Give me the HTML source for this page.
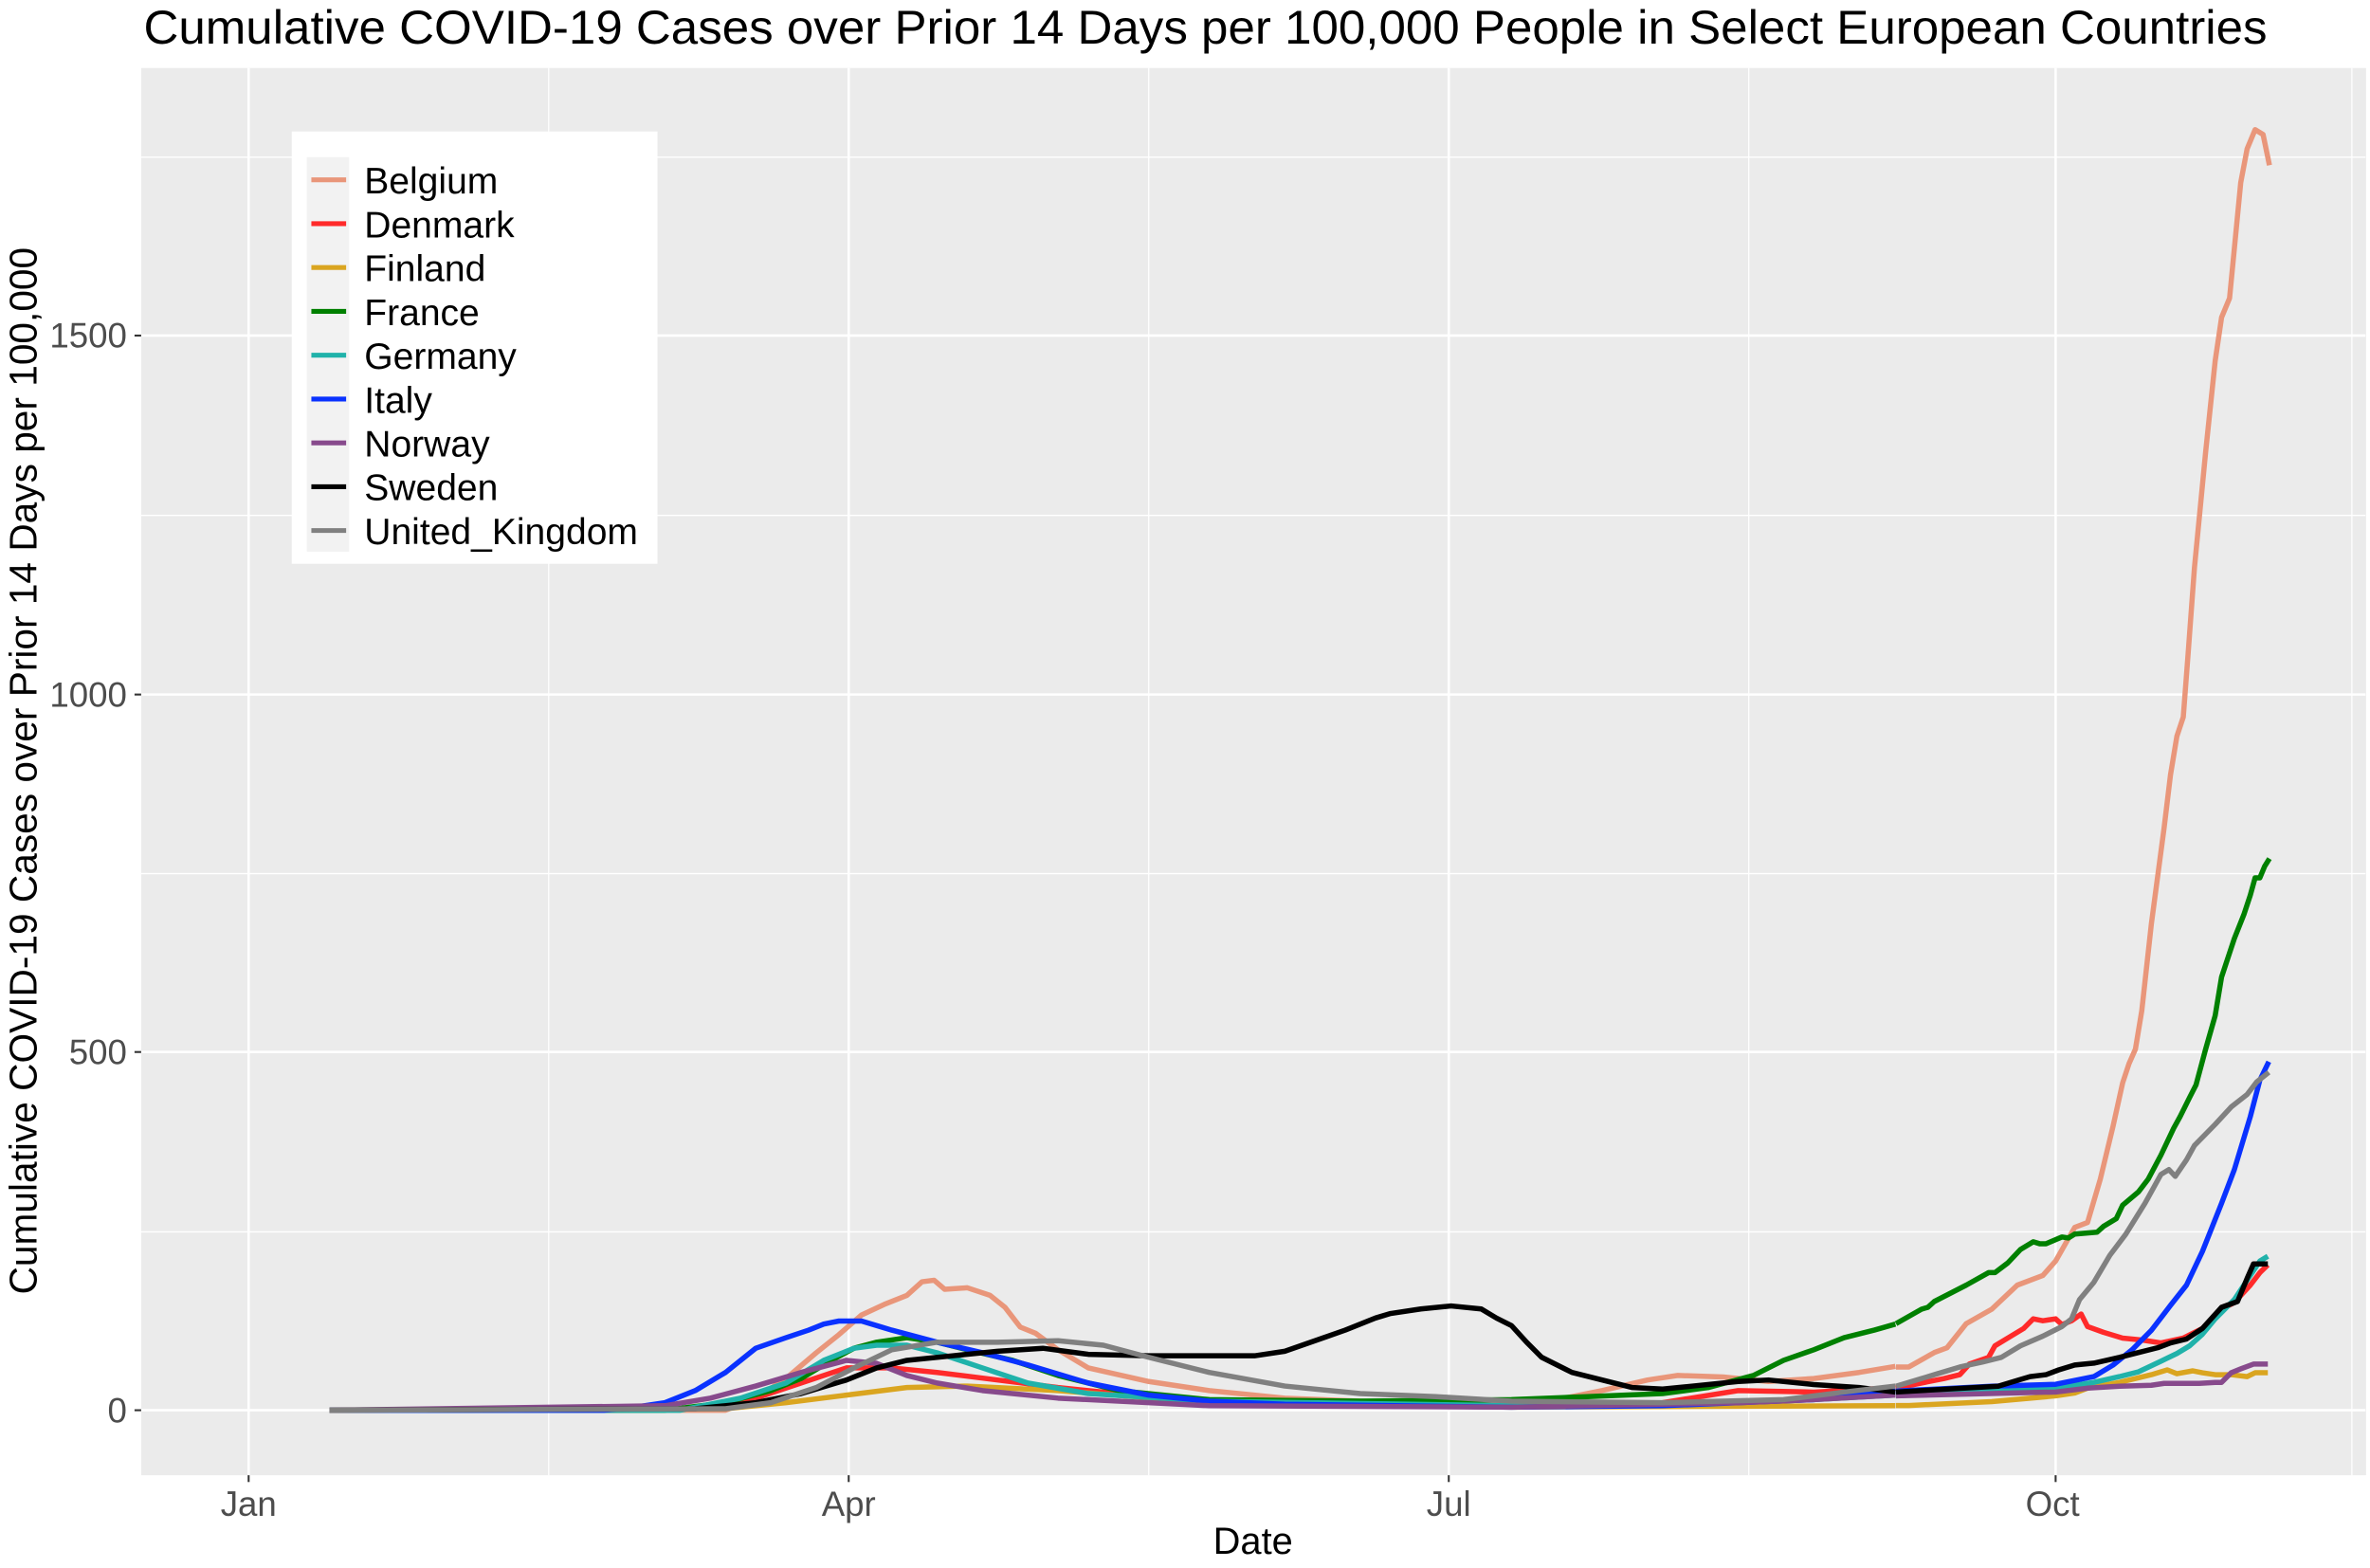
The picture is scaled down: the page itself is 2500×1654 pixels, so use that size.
<!DOCTYPE html>
<html><head><meta charset="utf-8"><style>html,body{margin:0;padding:0;background:#fff}svg{display:block}text{font-family:"Liberation Sans",sans-serif}</style></head>
<body>
<svg width="2500" height="1654" xmlns="http://www.w3.org/2000/svg">
<g transform="scale(1.5944)">
  <rect x="0" y="0" width="1568" height="1038" fill="#fff"/>
  <text x="95" y="29" font-size="31.5" textLength="1405" lengthAdjust="spacingAndGlyphs" fill="#000">Cumulative COVID-19 Cases over Prior 14 Days per 100,000 People in Select European Countries</text>
  <rect x="93.4" y="45" width="1472" height="931" fill="#ebebeb"/>
  <g stroke="#fff" stroke-width="0.8">
    <line x1="93.4" x2="1565" y1="815" y2="815"/><line x1="93.4" x2="1565" y1="578" y2="578"/>
    <line x1="93.4" x2="1565" y1="341" y2="341"/><line x1="93.4" x2="1565" y1="104" y2="104"/>
    <line y1="45" y2="976" x1="363" x2="363"/><line y1="45" y2="976" x1="760" x2="760"/>
    <line y1="45" y2="976" x1="1157" x2="1157"/><line y1="45" y2="976" x1="1556" x2="1556"/>
  </g>
  <g stroke="#fff" stroke-width="1.6">
    <line x1="93.4" x2="1565" y1="933" y2="933"/><line x1="93.4" x2="1565" y1="696" y2="696"/>
    <line x1="93.4" x2="1565" y1="459.5" y2="459.5"/><line x1="93.4" x2="1565" y1="222" y2="222"/>
    <line y1="45" y2="976" x1="164.5" x2="164.5"/><line y1="45" y2="976" x1="561.5" x2="561.5"/>
    <line y1="45" y2="976" x1="958.5" x2="958.5"/><line y1="45" y2="976" x1="1360" x2="1360"/>
  </g>
  <g stroke="#333" stroke-width="1.3">
    <line x1="89" x2="93.4" y1="933" y2="933"/><line x1="89" x2="93.4" y1="696" y2="696"/>
    <line x1="89" x2="93.4" y1="459.5" y2="459.5"/><line x1="89" x2="93.4" y1="222" y2="222"/>
    <line y1="976" y2="980.5" x1="164.5" x2="164.5"/><line y1="976" y2="980.5" x1="561.5" x2="561.5"/>
    <line y1="976" y2="980.5" x1="958.5" x2="958.5"/><line y1="976" y2="980.5" x1="1360" x2="1360"/>
  </g>
  <g font-size="23" fill="#4d4d4d" text-anchor="end">
    <text x="84" y="941">0</text><text x="84" y="704">500</text><text x="84" y="467.5">1000</text><text x="84" y="230">1500</text>
  </g>
  <g font-size="23" fill="#4d4d4d" text-anchor="middle">
    <text x="164.5" y="1003">Jan</text><text x="561.5" y="1003">Apr</text><text x="958.5" y="1003">Jul</text><text x="1358" y="1003">Oct</text>
  </g>
  <text x="829" y="1028" font-size="25" text-anchor="middle">Date</text>
  <text transform="translate(24,510) rotate(-90)" font-size="25.5" text-anchor="middle">Cumulative COVID-19 Cases over Prior 14 Days per 100,000</text>
</g>
<g fill="none" stroke-linejoin="round" stroke-width="5.5">
<g transform="scale(1.5944)">
<path vector-effect="non-scaling-stroke" stroke="#e9967a" d="M218,933 L480,933 500,925 520,912 540,895 555,883 570,870 585,863 600,857 610,848 618,847 625,853 640,852 655,857 665,865 675,878 685,882 700,893 720,905 760,914 800,920 850,925 950,929 1020,928 1060,920 1090,913 1110,910 1140,911 1170,914 1200,912 1230,908 1254,904"/>
<path vector-effect="non-scaling-stroke" stroke="#ff2a2a" d="M218,933 L460,932 500,925 530,915 560,905 590,905 620,908 660,913 700,918 750,923 800,928 1000,930 1100,928 1150,920 1200,921 1254,918"/>
<path vector-effect="non-scaling-stroke" stroke="#daa520" d="M218,933 L480,932 520,928 560,923 600,918 640,917 700,920 800,928 1000,931 1254,930"/>
<path vector-effect="non-scaling-stroke" stroke="#008000" d="M218,933 L440,933 480,928 510,920 530,912 550,900 565,892 580,888 600,885 620,888 640,893 670,900 700,910 740,920 800,926 900,927 1000,926 1050,924 1100,922 1130,918 1160,910 1180,900 1200,893 1220,885 1240,880 1254,876"/>
<path vector-effect="non-scaling-stroke" stroke="#20b2aa" d="M218,933 L450,933 490,925 520,915 545,900 565,892 580,890 600,890 620,895 650,905 680,915 720,922 800,927 1000,930 1100,929 1200,926 1254,923"/>
<path vector-effect="non-scaling-stroke" stroke="#0a32ff" d="M218,933 L400,933 420,931 440,928 460,920 480,908 500,892 520,885 535,880 545,876 555,874 570,874 590,880 620,888 650,895 680,903 720,915 760,923 800,927 850,929 1000,931 1100,930 1200,926 1254,920"/>
<path vector-effect="non-scaling-stroke" stroke="#874a8c" d="M218,933 L440,930 470,925 500,917 530,908 560,900 580,902 600,910 620,915 650,920 700,925 800,930 1000,931 1150,928 1200,926 1254,923"/>
<path vector-effect="non-scaling-stroke" stroke="#000" d="M218,933 L460,932 500,928 530,922 560,913 580,905 600,900 630,897 660,894 690,892 720,896 760,897 800,897 830,897 850,894 870,887 890,880 910,872 920,869 940,866 960,864 980,866 990,872 1000,877 1010,888 1020,898 1040,908 1060,913 1080,918 1100,919 1120,917 1150,914 1170,913 1200,916 1230,918 1254,921"/>
<path vector-effect="non-scaling-stroke" stroke="#808080" d="M218,933 L480,932 510,928 540,918 565,905 590,893 620,888 660,888 700,887 730,890 760,898 800,908 850,917 900,922 950,924 1000,927 1100,928 1180,926 1220,921 1254,917"/>
</g>
<g transform="translate(2000,60.6) scale(0.3367,1.0157)">
<path vector-effect="non-scaling-stroke" stroke="#e9967a" d="M0,1360 L40,1360 120,1345 160,1340 220,1315 300,1300 380,1275 460,1265 500,1250 560,1215 600,1210 640,1165 680,1110 710,1065 730,1045 750,1030 770,990 800,900 840,800 860,745 880,705 900,685 915,620 935,530 970,410 1000,315 1020,270 1045,250 1080,130 1100,95 1125,75 1150,80 1170,112"/>
<path vector-effect="non-scaling-stroke" stroke="#ff2a2a" d="M0,1382 L150,1372 200,1368 230,1357 290,1350 310,1338 360,1328 400,1320 430,1310 460,1312 500,1310 520,1316 550,1312 580,1305 600,1318 650,1324 710,1330 770,1332 830,1335 900,1330 960,1320 1020,1300 1060,1293 1110,1275 1140,1262 1165,1254"/>
<path vector-effect="non-scaling-stroke" stroke="#daa520" d="M0,1400 L40,1400 300,1396 500,1390 560,1387 600,1382 700,1376 800,1368 850,1363 880,1367 930,1364 960,1366 1000,1368 1050,1368 1100,1370 1125,1366 1165,1366"/>
<path vector-effect="non-scaling-stroke" stroke="#008000" d="M0,1315 L80,1300 100,1298 120,1292 220,1275 290,1262 310,1262 350,1252 390,1238 430,1230 450,1232 470,1232 520,1225 540,1226 560,1222 630,1220 650,1214 690,1206 710,1192 760,1178 790,1165 830,1140 870,1112 890,1100 920,1080 940,1067 970,1030 1000,995 1020,955 1060,915 1090,890 1110,870 1125,852 1140,852 1155,840 1170,832"/>
<path vector-effect="non-scaling-stroke" stroke="#20b2aa" d="M0,1390 L300,1385 500,1382 620,1376 700,1370 760,1365 830,1354 880,1346 920,1338 960,1326 1000,1310 1060,1290 1100,1270 1140,1250 1165,1245"/>
<path vector-effect="non-scaling-stroke" stroke="#0a32ff" d="M0,1385 L300,1380 500,1378 620,1370 680,1358 740,1342 800,1322 860,1296 910,1275 960,1240 1020,1190 1060,1155 1110,1100 1140,1062 1168,1043"/>
<path vector-effect="non-scaling-stroke" stroke="#874a8c" d="M0,1390 L500,1386 600,1382 700,1380 800,1379 840,1377 950,1377 1000,1376 1020,1376 1050,1366 1080,1362 1120,1357 1165,1357"/>
<path vector-effect="non-scaling-stroke" stroke="#000" d="M0,1386 L320,1380 380,1374 420,1370 470,1368 510,1363 560,1358 620,1356 700,1350 760,1345 820,1340 860,1335 910,1331 960,1320 1020,1298 1070,1292 1100,1268 1120,1253 1165,1253"/>
<path vector-effect="non-scaling-stroke" stroke="#808080" d="M0,1380 L80,1372 130,1367 200,1360 270,1355 330,1350 390,1338 460,1328 520,1318 550,1310 575,1290 620,1272 670,1244 720,1222 780,1190 830,1160 855,1155 875,1162 910,1145 935,1130 1000,1108 1050,1090 1100,1077 1130,1064 1168,1054"/>
</g>
</g>
<g transform="scale(1.5944)">
  <rect x="193" y="87" width="242" height="286" fill="#fff"/>
  <rect x="203" y="104" width="28" height="261" fill="#f2f2f2"/>
  <g stroke-width="3.2">
    <line x1="206" x2="229" y1="119" y2="119" stroke="#e9967a"/>
    <line x1="206" x2="229" y1="148" y2="148" stroke="#ff2a2a"/>
    <line x1="206" x2="229" y1="177" y2="177" stroke="#daa520"/>
    <line x1="206" x2="229" y1="206" y2="206" stroke="#008000"/>
    <line x1="206" x2="229" y1="235" y2="235" stroke="#20b2aa"/>
    <line x1="206" x2="229" y1="264" y2="264" stroke="#0a32ff"/>
    <line x1="206" x2="229" y1="293" y2="293" stroke="#874a8c"/>
    <line x1="206" x2="229" y1="322" y2="322" stroke="#000"/>
    <line x1="206" x2="229" y1="351" y2="351" stroke="#808080"/>
  </g>
  <g font-size="24.5" fill="#000">
    <text x="241" y="128">Belgium</text><text x="241" y="157">Denmark</text><text x="241" y="186">Finland</text>
    <text x="241" y="215">France</text><text x="241" y="244">Germany</text><text x="241" y="273">Italy</text>
    <text x="241" y="302">Norway</text><text x="241" y="331">Sweden</text><text x="241" y="360">United_Kingdom</text>
  </g>
</g>
</svg>
</body></html>
